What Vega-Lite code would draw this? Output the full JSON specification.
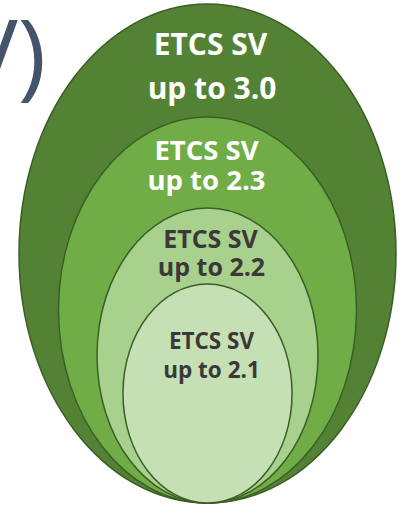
{
  "$schema": "https://vega.github.io/schema/vega-lite/v6.json",
  "width": 406,
  "height": 508,
  "autosize": {"type": "none"},
  "padding": 0,
  "background": "white",
  "config": {"view": {"stroke": null}},
  "datasets": {
    "ellipses": [
      {"rank": 1, "level": "3.0", "cx": 207.5, "cy": 253.5, "h": 499},
      {"rank": 2, "level": "2.3", "cx": 207.5, "cy": 310, "h": 386},
      {"rank": 3, "level": "2.2", "cx": 207.5, "cy": 355.5, "h": 295},
      {"rank": 4, "level": "2.1", "cx": 207.5, "cy": 393.5, "h": 219}
    ],
    "labels": [
      {"level": "3.0", "text": "ETCS SV", "x": 210.5, "y": 55},
      {"level": "3.0", "text": "up to 3.0", "x": 212, "y": 99},
      {"level": "2.3", "text": "ETCS SV", "x": 206.5, "y": 160},
      {"level": "2.3", "text": "up to 2.3", "x": 206.5, "y": 190},
      {"level": "2.2", "text": "ETCS SV", "x": 210.5, "y": 248},
      {"level": "2.2", "text": "up to 2.2", "x": 211.5, "y": 276},
      {"level": "2.1", "text": "ETCS SV", "x": 211.5, "y": 349},
      {"level": "2.1", "text": "up to 2.1", "x": 211.5, "y": 378}
    ],
    "heading": [
      {"text": "SV)", "x": 46, "y": 88}
    ]
  },
  "layer": [
    {
      "data": {"name": "ellipses"},
      "mark": {"type": "point", "filled": true, "opacity": 1, "stroke": "#3a5e25", "strokeWidth": 1.5, "strokeOpacity": 1},
      "encoding": {
        "x": {"field": "cx", "type": "quantitative", "scale": {"domain": [0, 406], "nice": false, "zero": false}, "axis": null},
        "y": {"field": "cy", "type": "quantitative", "scale": {"domain": [0, 508], "nice": false, "zero": false, "reverse": true}, "axis": null},
        "size": {"field": "h", "type": "quantitative", "scale": {"type": "pow", "exponent": 2, "domain": [0, 500], "range": [0, 250000]}, "legend": null},
        "shape": {"field": "level", "type": "nominal", "scale": {"domain": ["3.0", "2.3", "2.2", "2.1"], "range": [
          "M0,-1A0.7555,1,0,1,1,0,1A0.7555,1,0,1,1,0,-1Z",
          "M0,-1A0.772,1,0,1,1,0,1A0.772,1,0,1,1,0,-1Z",
          "M0,-1A0.749,1,0,1,1,0,1A0.749,1,0,1,1,0,-1Z",
          "M0,-1A0.772,1,0,1,1,0,1A0.772,1,0,1,1,0,-1Z"
        ]}, "legend": null},
        "fill": {"field": "level", "type": "nominal", "scale": {"domain": ["3.0", "2.3", "2.2", "2.1"], "range": ["#548235", "#70ad47", "#a9d18e", "#c5e0b4"]}, "legend": null},
        "order": {"field": "rank", "type": "quantitative"}
      }
    },
    {
      "data": {"name": "labels"},
      "mark": {"type": "text", "font": "Open Sans", "fontWeight": "bold", "align": "center", "baseline": "alphabetic"},
      "encoding": {
        "x": {"field": "x", "type": "quantitative"},
        "y": {"field": "y", "type": "quantitative"},
        "text": {"field": "text"},
        "size": {"field": "level", "type": "ordinal", "scale": {"domain": ["3.0", "2.3", "2.2", "2.1"], "range": [30, 22.5, 20.5, 20.5]}, "legend": null},
        "color": {"field": "level", "type": "nominal", "scale": {"domain": ["3.0", "2.3", "2.2", "2.1"], "range": ["#ffffff", "#ffffff", "#3b3838", "#3b3838"]}, "legend": null}
      }
    },
    {
      "data": {"name": "heading"},
      "mark": {"type": "text", "font": "Open Sans", "fontSize": 96, "align": "right", "baseline": "alphabetic", "fill": "#44546a"},
      "encoding": {
        "x": {"field": "x", "type": "quantitative"},
        "y": {"field": "y", "type": "quantitative"},
        "text": {"field": "text"}
      }
    }
  ],
  "resolve": {"scale": {"size": "independent", "color": "independent"}}
}
